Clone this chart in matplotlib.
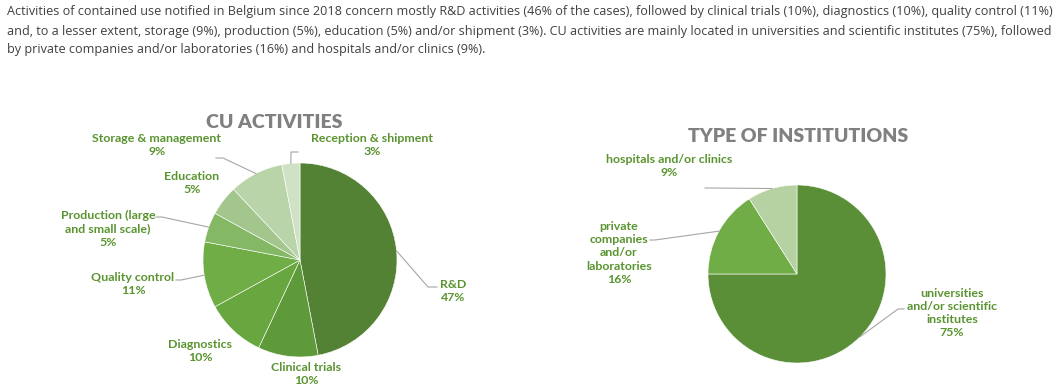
import numpy as np
import matplotlib
matplotlib.use("Agg")
import matplotlib.pyplot as plt

# ── Data ──────────────────────────────────────────────────────────────────────
CU_LABELS = ["R&D", "Clinical trials", "Diagnostics", "Quality control",
             "Production (large\nand small scale)", "Education",
             "Storage & management", "Reception & shipment"]
CU_VALUES = [47, 10, 10, 11, 5, 5, 9, 3]

INST_LABELS = ["universities\nand/or scientific\ninstitutes",
               "private\ncompanies\nand/or\nlaboratories",
               "hospitals and/or clinics"]
INST_VALUES = [75, 16, 9]

PARAGRAPH = [
    "Activities of contained use notified in Belgium since 2018 concern mostly R&D activities (46% of the cases), "
    "followed by clinical trials (10%), diagnostics (10%), quality control (11%)",
    "and, to a lesser extent, storage (9%), production (5%), education (5%) and/or shipment (3%). CU activities are "
    "mainly located in universities and scientific institutes (75%), followed",
    "by private companies and/or laboratories (16%) and hospitals and/or clinics (9%).",
]

# ── Style ─────────────────────────────────────────────────────────────────────
W, H = 1055, 390
CU_COLORS = ["#548235", "#5F9A3A", "#68A740", "#70AD47",
             "#84B865", "#A2C68C", "#B9D4A8", "#D0E2C5"]
INST_COLORS = ["#5A8F37", "#70AD47", "#B6D2A3"]
LABEL_C = "#5A9430"
TITLE_C = "#808080"
LEADER_C = "#A6A6A6"
TEXT_C = "#404040"
FONT = "Lato"

# layout in pixel coords (y measured from the top of the image)
CU_CENTER, CU_R = (300, 260), 97
INST_CENTER, INST_R = (797, 274), 89

# label centre, (elbow, end) of leader line or None
CU_LAYOUT = [
    ((453, 291), ((428, 287), (437, 287))),
    ((306, 374), None),
    ((200, 351), None),
    ((133, 284), ((181, 280), (176, 280))),
    ((108, 229), ((162, 217), (156, 217))),
    ((192, 183), None),
    ((157, 145), ((223, 158), (216, 158))),
    ((372, 145), ((291, 152), (298, 152))),
]
INST_LAYOUT = [
    ((952, 313), ((898, 309), (904, 309))),
    ((619, 253), ((655, 240), (650, 240))),
    ((669, 166), ((710, 188), (705, 188))),
]


def P(px, py):
    return px, H - py


fig = plt.figure(figsize=(W / 100, H / 100), dpi=100)
fig.patch.set_facecolor("white")
ax = fig.add_axes([0, 0, 1, 1])

# paragraph
for i, line in enumerate(PARAGRAPH):
    ax.text(7, H - 12 - 19 * i, line, ha="left", va="center",
            fontsize=9.1, color=TEXT_C, family="Open Sans")


def draw_pie(values, labels, colors, center, r, layout, title, title_pos):
    wedges, _ = ax.pie(values, colors=colors, startangle=90, counterclock=False,
                       center=P(*center), radius=r, frame=True,
                       wedgeprops=dict(edgecolor="white", linewidth=0.4))
    total = sum(values)
    for w, lab, v, (lpos, leader) in zip(wedges, labels, values, layout):
        ax.text(*P(*lpos), f"{lab}\n{round(100 * v / total)}%",
                ha="center", va="center", fontsize=8.9, fontweight="bold",
                color=LABEL_C, family=FONT, linespacing=1.25)
        if leader:
            mid = np.radians((w.theta1 + w.theta2) / 2)
            ax_x = P(*center)[0] + r * np.cos(mid)
            ax_y = P(*center)[1] + r * np.sin(mid)
            (ex, ey), (nx, ny) = leader
            ax.plot([ax_x, ex, nx], [ax_y, H - ey, H - ny],
                    color=LEADER_C, lw=0.8, zorder=1)
    ax.text(*P(*title_pos), title, ha="center", va="center",
            fontsize=14, fontweight="heavy", color=TITLE_C, family=FONT)


draw_pie(CU_VALUES, CU_LABELS, CU_COLORS, CU_CENTER, CU_R, CU_LAYOUT,
         "CU ACTIVITIES", (274, 122))
draw_pie(INST_VALUES, INST_LABELS, INST_COLORS, INST_CENTER, INST_R, INST_LAYOUT,
         "TYPE OF INSTITUTIONS", (798, 137))

ax.set_xlim(0, W)
ax.set_ylim(0, H)
ax.set_aspect("equal")
ax.axis("off")

fig.savefig("out.png", dpi=100, facecolor="white")
